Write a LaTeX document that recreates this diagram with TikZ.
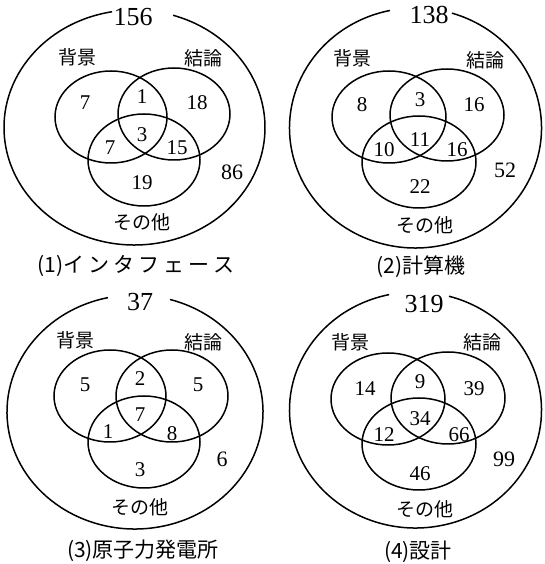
\documentclass[tikz,border=0pt]{standalone}
\usepackage{fontspec}
\setmainfont{Liberation Serif}
\newfontfamily\jpfont{Noto Sans CJK JP}
\begin{document}
\begin{tikzpicture}[x=1pt,y=1pt,
  ring/.style={line width=1.5pt},
  setc/.style={line width=1.5pt},
  num/.style={inner sep=0pt,font=\fontsize{21}{21}\selectfont},
  outnum/.style={inner sep=0pt,font=\fontsize{22}{22}\selectfont},
  topnum/.style={inner sep=0pt,font=\fontsize{26}{26}\selectfont},
  lab/.style={inner sep=0pt,font=\jpfont\fontsize{19}{19}\selectfont},
  captext/.style={inner sep=0pt,font=\jpfont\fontsize{21}{21}\selectfont}]
\useasboundingbox (0,0) rectangle (545,564);
\fill[white] (0,0) rectangle (545,564);

% ---------- Panel 1 ----------
\coordinate (o1) at (134.5,436.5);
\draw[ring] (o1) ++(99.9:130.5pt and 117.5pt) arc[start angle=99.9,end angle=432.8,x radius=130.5pt,y radius=117.5pt];
\draw[setc] (111,447) ellipse[x radius=56pt,y radius=46pt];
\draw[setc] (174,450) ellipse[x radius=56pt,y radius=46pt];
\draw[setc] (144,404) ellipse[x radius=56pt,y radius=46pt];
\node[topnum] (t1) at (133,547) {156};
\node[lab] (a1) at (77,507) {背景};
\node[lab] (b1) at (203,506) {結論};
\node[lab] (c1) at (142,342) {その他};
\node[outnum] (u1) at (232,392) {86};
\node[num] (n1a) at (85,461) {7};
\node[num] (n1b) at (142,467) {1};
\node[num] (n1c) at (197,461) {18};
\node[num] (n1d) at (142,429) {3};
\node[num] (n1e) at (110,416) {7};
\node[num] (n1f) at (177,416) {15};
\node[num] (n1g) at (142,381) {19};
\node[captext] (p1) at (136,298) {(1)イ\hspace{4pt}ン\hspace{4pt}タ\hspace{4pt}フ\hspace{4pt}ェ\hspace{4pt}ー\hspace{4pt}ス};

% ---------- Panel 2 ----------
\coordinate (o2) at (415.5,436);
\draw[ring] (o2) ++(101.7:126pt and 120pt) arc[start angle=101.7,end angle=433.2,x radius=126pt,y radius=120pt];
\draw[setc] (389,447) ellipse[x radius=57pt,y radius=46pt];
\draw[setc] (447,449) ellipse[x radius=57pt,y radius=46pt];
\draw[setc] (419,402) ellipse[x radius=57pt,y radius=46pt];
\node[topnum] (t2) at (429,549) {138};
\node[lab] (a2) at (352,506) {背景};
\node[lab] (b2) at (485,504) {結論};
\node[lab] (c2) at (425,339) {その他};
\node[outnum] (u2) at (505,394) {52};
\node[num] (n2a) at (362,459) {8};
\node[num] (n2b) at (420,464) {3};
\node[num] (n2c) at (474,459) {16};
\node[num] (n2d) at (420,424) {11};
\node[num] (n2e) at (384,414) {10};
\node[num] (n2f) at (457,414) {16};
\node[num] (n2g) at (420,377) {22};
\node[captext] (p2) at (421,297) {(2)計算機};

% ---------- Panel 3 ----------
\coordinate (o3) at (135,152);
\draw[ring] (o3) ++(102.2:128pt and 117pt) arc[start angle=102.2,end angle=434.1,x radius=128pt,y radius=117pt];
\draw[setc] (110,168) ellipse[x radius=56pt,y radius=46pt];
\draw[setc] (172,168) ellipse[x radius=56pt,y radius=46pt];
\draw[setc] (144,122) ellipse[x radius=56pt,y radius=46pt];
\node[topnum] (t3) at (140,262) {37};
\node[lab] (a3) at (75,224) {背景};
\node[lab] (b3) at (203,222) {結論};
\node[lab] (c3) at (140,57) {その他};
\node[outnum] (u3) at (222,105) {6};
\node[num] (n3a) at (85,179) {5};
\node[num] (n3b) at (140,185) {2};
\node[num] (n3c) at (198,179) {5};
\node[num] (n3d) at (140,149) {7};
\node[num] (n3e) at (108,132) {1};
\node[num] (n3f) at (172,130) {8};
\node[num] (n3g) at (140,94) {3};
\node[captext] (p3) at (143,13) {(3)原子力発電所};

% ---------- Panel 4 ----------
\coordinate (o4) at (415.5,154);
\draw[ring] (o4) ++(102.1:126pt and 118pt) arc[start angle=102.1,end angle=434.6,x radius=126pt,y radius=118pt];
\draw[setc] (388,165) ellipse[x radius=57pt,y radius=46pt];
\draw[setc] (448,166) ellipse[x radius=57pt,y radius=46pt];
\draw[setc] (419,120) ellipse[x radius=57pt,y radius=46pt];
\node[topnum] (t4) at (424,260) {319};
\node[lab] (a4) at (350,222) {背景};
\node[lab] (b4) at (482,222) {結論};
\node[lab] (c4) at (425,55) {その他};
\node[outnum] (u4) at (504,105) {99};
\node[num] (n4a) at (365,175) {14};
\node[num] (n4b) at (420,182) {9};
\node[num] (n4c) at (474,175) {39};
\node[num] (n4d) at (420,145) {34};
\node[num] (n4e) at (384,129) {12};
\node[num] (n4f) at (459,129) {66};
\node[num] (n4g) at (420,90) {46};
\node[captext] (p4) at (418,12) {(4)設計};
\end{tikzpicture}
\end{document}
